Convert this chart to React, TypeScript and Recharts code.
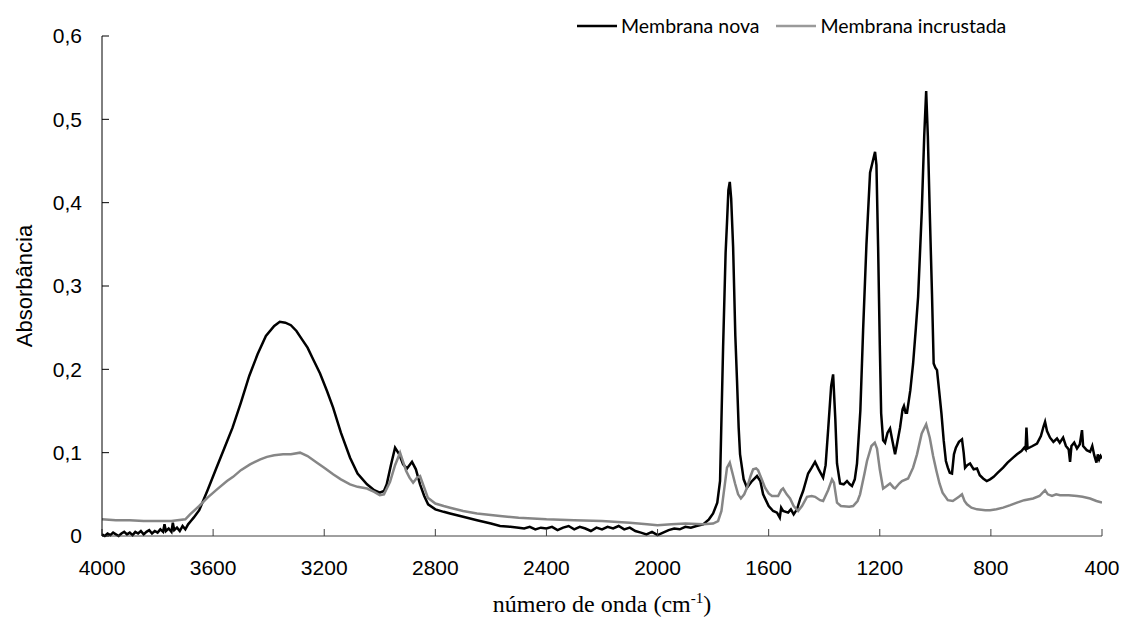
import { Legend, Line, LineChart, XAxis, YAxis } from 'recharts'

// número de onda (cm-1) / absorbância — Membrana nova
const novaWavenumber = [
  4000, 3990, 3980, 3970, 3960, 3950, 3940, 3930, 3920, 3910, 3900, 3890, 3880, 3870, 3860, 3850,
  3840, 3830, 3820, 3810, 3800, 3790, 3780, 3775, 3770, 3760, 3750, 3745, 3740, 3730, 3720, 3710,
  3700, 3690, 3680, 3670, 3650, 3620, 3590, 3560, 3530, 3500, 3470, 3440, 3410, 3380, 3360, 3340,
  3320, 3300, 3280, 3260, 3240, 3215, 3190, 3168, 3140, 3107, 3080, 3046, 3020, 3000, 2985, 2975,
  2960, 2945, 2930, 2916, 2902, 2884, 2870, 2855, 2840, 2826, 2800, 2770, 2747, 2700, 2650, 2600,
  2567, 2530, 2500, 2480, 2460, 2440, 2420, 2400, 2380, 2360, 2340, 2320, 2300, 2280, 2260, 2240,
  2220, 2200, 2180, 2160, 2140, 2120, 2100, 2080, 2060, 2040, 2020, 2000, 1980, 1960, 1940, 1920,
  1900, 1880, 1860, 1836, 1815, 1800, 1785, 1775, 1764, 1755, 1750, 1745, 1740, 1735, 1728, 1720,
  1714, 1708, 1703, 1690, 1678, 1660, 1642, 1630, 1620, 1600, 1584, 1570, 1560, 1555, 1548, 1530,
  1520, 1510, 1498, 1486, 1476, 1458, 1445, 1433, 1420, 1404, 1395, 1386, 1375, 1368, 1360, 1354,
  1343, 1330, 1318, 1308, 1300, 1290, 1282, 1270, 1260, 1248, 1235, 1225, 1217, 1212, 1206, 1200,
  1195, 1188, 1181, 1172, 1163, 1155, 1145, 1138, 1127, 1118, 1113, 1107, 1102, 1090, 1080, 1070,
  1062, 1049, 1040, 1033, 1027, 1020, 1012, 1006, 1000, 994, 985, 978, 970, 962, 955, 948,
  940, 933, 926, 915, 904, 898, 893, 885, 875, 862, 850, 840, 828, 815, 803, 790,
  775, 756, 740, 720, 706, 690, 680, 675, 672, 668, 650, 634, 620, 610, 605, 598,
  587, 575, 562, 552, 540, 530, 520, 515, 510, 500, 490, 480, 472, 468, 455, 443,
  435, 428, 420, 415, 410, 405, 400,
]
const novaAbsorbance = [
  0.002, 0.0, 0.003, 0.001, 0.004, 0.002, 0.0, 0.003, 0.005, 0.002, 0.004, 0.001, 0.005, 0.003, 0.006, 0.002,
  0.005, 0.007, 0.003, 0.006, 0.004, 0.008, 0.005, 0.014, 0.006, 0.009, 0.005, 0.016, 0.007, 0.01, 0.006, 0.012,
  0.008, 0.014, 0.018, 0.022, 0.031, 0.055, 0.08, 0.105, 0.13, 0.16, 0.192, 0.218, 0.24, 0.252, 0.257, 0.256,
  0.253, 0.246, 0.236, 0.226, 0.212, 0.195, 0.174, 0.154, 0.124, 0.094, 0.075, 0.062, 0.055, 0.052, 0.054, 0.062,
  0.085, 0.106, 0.098, 0.086, 0.081, 0.089, 0.08, 0.062, 0.048, 0.038, 0.032, 0.029, 0.027, 0.023, 0.019, 0.015,
  0.012, 0.011, 0.01, 0.009, 0.011, 0.008, 0.01, 0.009, 0.011, 0.007, 0.01, 0.012, 0.008, 0.011, 0.009, 0.006,
  0.01, 0.008, 0.011, 0.009, 0.012, 0.008, 0.01, 0.006, 0.004, 0.002, 0.005, 0.001, 0.004, 0.007, 0.009, 0.008,
  0.011, 0.01, 0.012, 0.014, 0.02, 0.027, 0.04, 0.066, 0.227, 0.34, 0.376, 0.415, 0.425, 0.405, 0.347, 0.24,
  0.187, 0.13, 0.098, 0.068, 0.058, 0.066, 0.072, 0.066, 0.05, 0.036, 0.03, 0.028, 0.022, 0.034, 0.03, 0.028,
  0.032, 0.026, 0.032, 0.045, 0.054, 0.075, 0.082, 0.089, 0.08, 0.07, 0.085, 0.127, 0.18, 0.194, 0.14, 0.087,
  0.063, 0.062, 0.066, 0.062, 0.06, 0.068, 0.087, 0.15, 0.247, 0.35, 0.436, 0.45, 0.461, 0.445, 0.347, 0.23,
  0.147, 0.115, 0.112, 0.124, 0.129, 0.115, 0.098, 0.11, 0.13, 0.152, 0.156, 0.148, 0.148, 0.175, 0.207, 0.25,
  0.287, 0.388, 0.48, 0.534, 0.48, 0.388, 0.29, 0.207, 0.202, 0.199, 0.17, 0.147, 0.115, 0.09, 0.082, 0.076,
  0.075, 0.098, 0.106, 0.113, 0.116, 0.1, 0.082, 0.085, 0.087, 0.08, 0.081, 0.073, 0.069, 0.066, 0.068, 0.071,
  0.076, 0.082, 0.088, 0.094, 0.098, 0.102, 0.106, 0.104, 0.13, 0.105, 0.108, 0.111, 0.12, 0.132, 0.137, 0.126,
  0.118, 0.113, 0.117, 0.112, 0.118, 0.108, 0.104, 0.089, 0.108, 0.112, 0.105, 0.11, 0.127, 0.108, 0.103, 0.101,
  0.108, 0.097, 0.088, 0.098, 0.092, 0.096, 0.093,
]

// Membrana incrustada
const incrustadaWavenumber = [
  4000, 3950, 3900, 3850, 3800, 3750, 3700, 3683, 3650, 3620, 3586, 3550, 3528, 3500, 3467, 3430,
  3406, 3380, 3348, 3320, 3287, 3260, 3226, 3200, 3168, 3140, 3107, 3080, 3046, 3020, 3000, 2985,
  2963, 2945, 2927, 2915, 2905, 2893, 2880, 2866, 2855, 2840, 2827, 2800, 2770, 2747, 2700, 2650,
  2567, 2500, 2400, 2300, 2200, 2100, 2038, 2000, 1950, 1900, 1836, 1800, 1782, 1770, 1764, 1750,
  1740, 1730, 1721, 1710, 1700, 1688, 1678, 1665, 1656, 1645, 1638, 1625, 1613, 1600, 1588, 1566,
  1555, 1548, 1535, 1523, 1510, 1494, 1480, 1462, 1445, 1433, 1415, 1404, 1386, 1372, 1365, 1354,
  1340, 1310, 1296, 1280, 1271, 1255, 1246, 1230, 1218, 1210, 1200, 1188, 1175, 1163, 1150, 1145,
  1130, 1120, 1098, 1080, 1066, 1049, 1033, 1020, 1008, 996, 985, 974, 955, 937, 915, 904,
  895, 886, 870, 850, 820, 803, 780, 756, 730, 706, 680, 648, 625, 605, 595, 580,
  565, 551, 520, 490, 470, 443, 420, 400,
]
const incrustadaAbsorbance = [
  0.02, 0.019, 0.019, 0.018, 0.018, 0.018, 0.02, 0.026, 0.036, 0.046, 0.056, 0.066, 0.071, 0.079, 0.086, 0.092,
  0.095, 0.097, 0.098, 0.098, 0.1, 0.096, 0.088, 0.082, 0.074, 0.068, 0.062, 0.059, 0.057, 0.053, 0.049, 0.05,
  0.065, 0.085, 0.1, 0.088, 0.078, 0.07, 0.064, 0.07, 0.072, 0.058, 0.046, 0.039, 0.036, 0.034, 0.03, 0.027,
  0.024, 0.022, 0.02, 0.019, 0.018, 0.016, 0.014, 0.013, 0.014, 0.015, 0.014, 0.015, 0.018, 0.03, 0.046, 0.082,
  0.088, 0.075, 0.063, 0.05, 0.045, 0.05, 0.058, 0.072, 0.08, 0.081, 0.079, 0.068, 0.058, 0.051, 0.048, 0.048,
  0.055, 0.057, 0.05, 0.045, 0.036, 0.03, 0.036, 0.047, 0.048, 0.047, 0.043, 0.042, 0.055, 0.068, 0.064, 0.04,
  0.036, 0.035, 0.036, 0.042, 0.05, 0.075, 0.09, 0.108, 0.112, 0.105, 0.08, 0.057, 0.06, 0.063, 0.058, 0.057,
  0.063, 0.066, 0.069, 0.082, 0.098, 0.123, 0.134, 0.118, 0.096, 0.078, 0.063, 0.052, 0.043, 0.042, 0.047, 0.05,
  0.042, 0.038, 0.034, 0.032, 0.031, 0.031, 0.032, 0.034, 0.037, 0.04, 0.043, 0.045, 0.048, 0.055, 0.05, 0.048,
  0.05, 0.049, 0.049, 0.048, 0.047, 0.045, 0.042, 0.04,
]

const xTicks = [4000, 3600, 3200, 2800, 2400, 2000, 1600, 1200, 800, 400]
const yTicks = [0, 0.1, 0.2, 0.3, 0.4, 0.5, 0.6]

const novaData = novaWavenumber.map((wn, i) => ({ wn, a: novaAbsorbance[i] }))
const incrustadaData = incrustadaWavenumber.map((wn, i) => ({ wn, a: incrustadaAbsorbance[i] }))

const NOVA_COLOR = '#000000'
const INCRUSTADA_COLOR = '#868686'
const tickFont = { fontFamily: '"Liberation Sans", Arial, sans-serif', fontSize: 21, fill: '#000' }

function ChartLegend() {
  const items = [
    { label: 'Membrana nova', color: NOVA_COLOR, gap: 17 },
    { label: 'Membrana incrustada', color: '#9a9a9a', gap: 0 },
  ]
  return (
    <div
      style={{
        display: 'flex',
        alignItems: 'center',
        fontFamily: 'Lato, "Open Sans", sans-serif',
        fontSize: 19.5,
        color: '#000',
        whiteSpace: 'nowrap',
      }}
    >
      {items.map((item) => (
        <div key={item.label} style={{ display: 'flex', alignItems: 'center', marginRight: item.gap }}>
          <svg width={40} height={6} style={{ marginRight: 4 }}>
            <line x1={0} y1={3} x2={40} y2={3} stroke={item.color} strokeWidth={2.5} />
          </svg>
          <span>{item.label}</span>
        </div>
      ))}
    </div>
  )
}

export default function App() {
  return (
    <div style={{ position: 'absolute', left: 0, top: 0, background: '#fff' }}>
      <LineChart width={1123} height={621} margin={{ top: 36, right: 21, bottom: 55, left: 0 }}>
        <XAxis
          dataKey="wn"
          type="number"
          domain={[400, 4000]}
          ticks={xTicks}
          reversed
          allowDataOverflow
          interval={0}
          stroke="#404040"
          tickSize={-7}
          tickMargin={31}
          tick={tickFont}
          label={(props: any) => {
            const vb = props.viewBox
            return (
              <text
                x={vb.x + vb.width / 2}
                y={612}
                textAnchor="middle"
                style={{ fontFamily: '"Liberation Serif", "Times New Roman", serif', fontSize: 24 }}
                fill="#000"
              >
                número de onda (cm
                <tspan dy={-9} fontSize={15}>
                  -1
                </tspan>
                <tspan dy={9}>)</tspan>
              </text>
            )
          }}
        />
        <YAxis
          type="number"
          domain={[0, 0.6]}
          ticks={yTicks}
          width={102}
          interval={0}
          stroke="#000"
          tickSize={-7}
          tickMargin={27}
          tick={tickFont}
          tickFormatter={(v: number) => (v === 0 ? '0' : v.toFixed(1).replace('.', ','))}
          label={(props: any) => {
            const vb = props.viewBox
            const cx = 24
            const cy = vb.y + vb.height / 2
            return (
              <text
                x={cx}
                y={cy}
                textAnchor="middle"
                dominantBaseline="central"
                transform={`rotate(-90, ${cx}, ${cy})`}
                style={{ fontFamily: '"Liberation Sans", Arial, sans-serif', fontSize: 22 }}
                fill="#000"
              >
                Absorbância
              </text>
            )
          }}
        />
        <Legend
          layout="horizontal"
          verticalAlign="middle"
          align="center"
          content={<ChartLegend />}
          wrapperStyle={{ position: 'absolute', top: 14, left: 577, width: 'auto' }}
        />
        <Line
          data={novaData}
          dataKey="a"
          name="Membrana nova"
          type="linear"
          stroke={NOVA_COLOR}
          strokeWidth={2.5}
          dot={false}
          isAnimationActive={false}
        />
        <Line
          data={incrustadaData}
          dataKey="a"
          name="Membrana incrustada"
          type="linear"
          stroke={INCRUSTADA_COLOR}
          strokeWidth={2.5}
          dot={false}
          isAnimationActive={false}
        />
      </LineChart>
    </div>
  )
}
